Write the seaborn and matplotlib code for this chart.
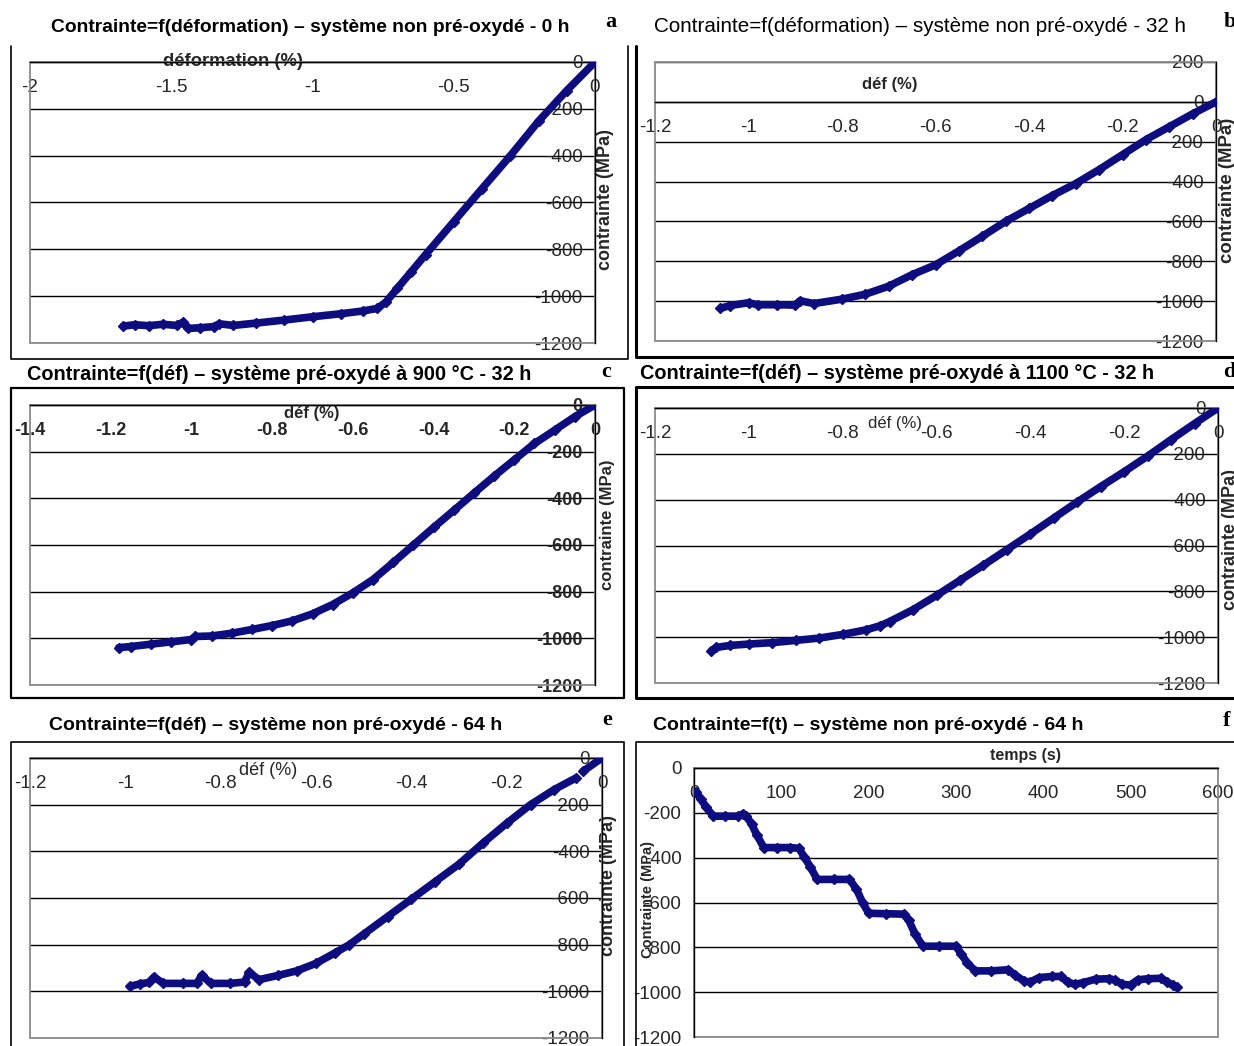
import numpy as np
import pandas as pd
import seaborn as sns
import matplotlib.pyplot as plt
from matplotlib.patches import Rectangle
from matplotlib.lines import Line2D

sns.set_style("white")
plt.rcParams['font.family'] = ['Liberation Sans', 'DejaVu Sans']

W, H = 1234, 1046
NAVY = "#0d0d80"
TXT = "#262626"

# --- a : non pre-oxide, 0 h
a_def = [-1.67, -1.63, -1.58, -1.53, -1.48, -1.46, -1.44, -1.40, -1.35, -1.33, -1.28, -1.20, -1.10,
         -1.00, -0.90, -0.82, -0.77, -0.74, -0.70, -0.65, -0.60, -0.50, -0.40, -0.30, -0.20, -0.10, 0.00]
a_sig = [-1128, -1122, -1126, -1120, -1125, -1112, -1138, -1135, -1130, -1118, -1125, -1115, -1102,
         -1088, -1075, -1063, -1052, -1025, -967, -895, -823, -682, -541, -401, -253, -122, 0]

# --- b : non pre-oxide, 32 h
b_def = [-1.06, -1.04, -1.00, -0.98, -0.94, -0.90, -0.89, -0.86, -0.80, -0.75, -0.70, -0.65, -0.60,
         -0.55, -0.50, -0.45, -0.40, -0.35, -0.30, -0.25, -0.20, -0.15, -0.10, -0.05, 0.00]
b_sig = [-1036, -1022, -1008, -1018, -1018, -1020, -998, -1012, -990, -965, -925, -867, -818,
         -748, -675, -600, -535, -470, -410, -340, -265, -190, -125, -60, 0]

# --- c : pre-oxide 900 C, 32 h
c_def = [-1.18, -1.15, -1.10, -1.05, -1.00, -0.99, -0.95, -0.90, -0.85, -0.80, -0.75, -0.70, -0.65,
         -0.60, -0.55, -0.50, -0.45, -0.40, -0.35, -0.30, -0.25, -0.20, -0.15, -0.10, -0.05, 0.00]
c_sig = [-1040, -1035, -1025, -1015, -1005, -992, -990, -978, -962, -945, -925, -895, -855,
         -805, -748, -675, -600, -525, -452, -378, -305, -235, -165, -108, -50, 0]

# --- d : pre-oxide 1100 C, 32 h
d_def = [-1.08, -1.07, -1.04, -1.00, -0.95, -0.90, -0.85, -0.80, -0.75, -0.72, -0.70, -0.65, -0.60,
         -0.55, -0.50, -0.45, -0.40, -0.35, -0.30, -0.25, -0.20, -0.15, -0.10, -0.05, 0.00]
d_sig = [-1060, -1045, -1036, -1030, -1024, -1014, -1004, -988, -968, -950, -932, -880, -818,
         -752, -686, -618, -550, -480, -410, -343, -278, -210, -138, -68, 0]

# --- e : non pre-oxide, 64 h (two segments)
e_def = [-0.99, -0.97, -0.95, -0.94, -0.92, -0.88, -0.85, -0.84, -0.82, -0.78, -0.75, -0.74, -0.72,
         -0.68, -0.64, -0.60, -0.56, -0.53, -0.50, -0.45, -0.40, -0.35, -0.30, -0.25, -0.20, -0.15,
         -0.10, -0.055]
e_sig = [-979, -968, -962, -939, -966, -966, -966, -932, -966, -966, -960, -918, -950,
         -932, -912, -880, -835, -800, -755, -680, -605, -530, -455, -365, -280, -200,
         -135, -86]
e2_def = [-0.04, 0.0]
e2_sig = [-57, 0]

# --- f : stress vs time, 64 h
f_t = [2, 8, 14, 22, 35, 50, 56, 60, 66, 72, 80, 95, 110, 120, 126, 133, 141, 160, 178, 186, 193,
       200, 220, 240, 246, 253, 262, 280, 300, 306, 313, 322, 340, 360, 368, 378, 385, 395, 410,
       420, 428, 436, 445, 460, 475, 482, 490, 500, 508, 520, 535, 542, 548, 553]
f_sig = [-105, -140, -175, -215, -215, -215, -205, -215, -250, -300, -355, -355, -355, -358, -395,
         -440, -497, -497, -497, -540, -600, -648, -650, -652, -680, -740, -795, -795, -795, -830,
         -870, -905, -905, -900, -925, -950, -955, -935, -930, -930, -955, -965, -958, -942, -940,
         -945, -965, -968, -945, -940, -938, -955, -968, -978]

titles = ["Contrainte=f(déformation) – système non pré-oxydé - 0 h",
          "Contrainte=f(déformation) – système non pré-oxydé - 32 h",
          "Contrainte=f(déf) – système pré-oxydé à 900 °C - 32 h",
          "Contrainte=f(déf) – système pré-oxydé à 1100 °C - 32 h",
          "Contrainte=f(déf) – système non pré-oxydé - 64 h",
          "Contrainte=f(t) – système non pré-oxydé - 64 h"]

fig = plt.figure(figsize=(W / 100, H / 100), dpi=100)


def px_axes(x0, y0, x1, y1):
    return fig.add_axes([x0 / W, 1 - y1 / H, (x1 - x0) / W, (y1 - y0) / H])


def fig_line(xs, ys, lw=1.2):
    fig.add_artist(Line2D([x / W for x in xs], [1 - y / H for y in ys],
                          transform=fig.transFigure, color="black", lw=lw))


def setup(ax, xlim, ylim, xstep, ystep, weight="normal", fs=13.5):
    # spines first: moving a spine resets the ticks
    for s in ["top", "right"]:
        ax.spines[s].set_visible(False)
    ax.spines["left"].set_position(("data", 0))
    ax.spines["bottom"].set_position(("data", 0))
    for s in ["left", "bottom"]:
        ax.spines[s].set_color("black")
        ax.spines[s].set_linewidth(1.0)
    ax.set_xlim(*xlim)
    ax.set_ylim(*ylim)
    xt = np.round(np.arange(xlim[0], xlim[1] + xstep / 2, xstep), 2)
    yt = np.arange(ylim[0], ylim[1] + 1, ystep)
    ax.set_xticks(xt)
    ax.set_yticks(yt)
    ax.set_xticklabels([f"{v:g}" if abs(v) > 1e-9 else "0" for v in xt],
                       fontsize=fs, fontweight=weight, color=TXT)
    ax.set_yticklabels([f"{v:g}" for v in yt], fontsize=fs, fontweight=weight, color=TXT)
    ax.tick_params(axis="x", direction="inout", length=8, width=1, pad=8, color="black")
    ax.tick_params(axis="y", direction="inout", length=8, width=1, pad=5, color="black")
    ax.yaxis.grid(True, color="black", lw=1.0)
    ax.xaxis.grid(False)
    ax.set_axisbelow(True)
    ax.add_patch(Rectangle((0, 0), 1, 1, transform=ax.transAxes, fill=False,
                           ec="#8a8a8a", lw=1.3, clip_on=False, zorder=1.5))


def curve(ax, x, y):
    df = pd.DataFrame({"x": x, "y": y})
    sns.lineplot(data=df, x="x", y="y", ax=ax, color=NAVY, lw=5.5, sort=False,
                 estimator=None, marker="D", markersize=5, markeredgecolor=NAVY,
                 markeredgewidth=1, zorder=3)


def labels(ax, xl, xpos, yl, ypos, xw="bold", yw="bold", xfs=13, yfs=13):
    ax.set_xlabel(xl, fontsize=xfs, fontweight=xw, color=TXT)
    ax.xaxis.label.set_va("center")
    ax.xaxis.set_label_coords(*xpos)
    ax.set_ylabel(yl, fontsize=yfs, fontweight=yw, color=TXT)
    ax.yaxis.label.set_va("center")
    ax.yaxis.set_label_coords(*ypos)


# ---- panel frames
fig_line([11, 11, 628, 628], [46, 359, 359, 46])
fig_line([636, 636, 1234], [46, 357, 357], lw=2.2)
fig_line([11, 11, 624, 624, 11], [388, 698, 698, 388, 388], lw=1.6)
fig_line([1234, 636, 636, 1234], [387, 387, 698, 698], lw=2.2)
fig_line([11, 11, 624, 624], [1046, 742, 742, 1046])
fig_line([1234, 636, 636], [742, 742, 1046])

# ---- a
ax = px_axes(30, 62, 595, 343)
setup(ax, (-2, 0), (-1200, 0), 0.5, 200)
curve(ax, a_def, a_sig)
labels(ax, "déformation (%)", (0.36, 1.0), "contrainte (MPa)", (1.018, 0.51), xfs=13.2)

# ---- b
ax = px_axes(655, 62, 1216, 341)
setup(ax, (-1.2, 0), (-1200, 200), 0.2, 200)
curve(ax, b_def, b_sig)
labels(ax, "déf (%)", (0.419, 0.918), "contrainte (MPa)", (1.02, 0.54), xfs=12, yfs=13.4)

# ---- c
ax = px_axes(30, 405, 595, 685)
setup(ax, (-1.4, 0), (-1200, 0), 0.2, 200, weight="bold", fs=13)
curve(ax, c_def, c_sig)
labels(ax, "déf (%)", (0.499, 0.971), "contrainte (MPa)", (1.022, 0.571), xfs=12, yfs=12)

# ---- d
ax = px_axes(655, 408, 1218, 683)
setup(ax, (-1.2, 0), (-1200, 0), 0.2, 200)
curve(ax, d_def, d_sig)
labels(ax, "déf (%)", (0.426, 0.945), "contrainte (MPa)", (1.022, 0.52), xw="normal", xfs=12)

# ---- e
ax = px_axes(30, 758, 602, 1038)
setup(ax, (-1.2, 0), (-1200, 0), 0.2, 200)
curve(ax, e_def, e_sig)
curve(ax, e2_def, e2_sig)
labels(ax, "déf (%)", (0.416, 0.957), "contrainte (MPa)", (1.012, 0.546), xw="normal")

# ---- f
ax = px_axes(694, 768, 1218, 1037)
setup(ax, (0, 600), (-1200, 0), 100, 200)
curve(ax, f_t, f_sig)
labels(ax, "temps (s)", (0.632, 1.048), "Contrainte (MPa)", (-0.088, 0.51), xfs=11.5, yfs=10.5)

# ---- titles and letters
title_pos = [(310, 27), (920, 27), (279, 375), (897, 374), (276, 725), (868, 725)]
title_w = ["bold", "normal", "bold", "bold", "bold", "bold"]
title_fs = [13.9, 14.9, 14.3, 14.3, 14.0, 14.0]
for t, (x, y), w, s in zip(titles, title_pos, title_w, title_fs):
    fig.text(x / W, 1 - y / H, t, ha="center", va="center", fontsize=s,
             fontweight=w, color="black")

letters = ["a", "b", "c", "d", "e", "f"]
letter_pos = [(611, 22), (1230, 22), (606, 372), (1229, 372), (607, 720), (1227, 721)]
for l, (x, y) in zip(letters, letter_pos):
    fig.text(x / W, 1 - y / H, l, ha="center", va="center", fontsize=16,
             fontweight="bold", family=["Liberation Serif", "DejaVu Serif"], color="black")

fig.savefig("out.png", dpi=100)
